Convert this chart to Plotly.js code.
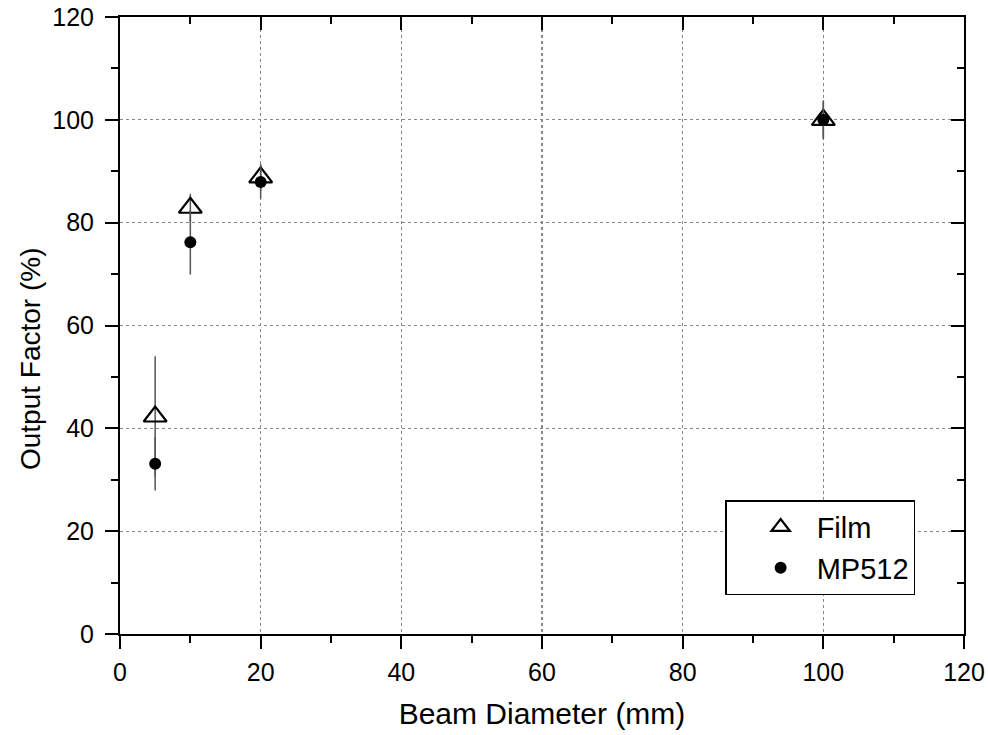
<!DOCTYPE html>
<html>
<head>
<meta charset="utf-8">
<script src="https://cdn.plot.ly/plotly-3.0.1.min.js"></script>
<style>html,body{margin:0;padding:0;background:#fff;}#chart{width:988px;height:735px;}</style>
</head>
<body>
<div id="chart"></div>
<script>
const beamDiameter = [5, 10, 20, 100];
const filmOF = [42.3, 82.9, 88.8, 100];
const filmErr = [11.7, 2.7, 2.6, 3.5];
const mp512OF = [33.1, 76.2, 87.9, 100];
const mp512Err = [5.2, 6.3, 3.2, 3.8];
const xTicks = [0, 20, 40, 60, 80, 100, 120];
const yTicks = [0, 20, 40, 60, 80, 100, 120];

const FONT = 'Liberation Sans, Arial, sans-serif';

const traces = [
  {
    x: beamDiameter, y: filmOF, name: 'Film', type: 'scatter', mode: 'markers',
    marker: {symbol: 'triangle-up-open', size: 20, color: '#000', line: {width: 2.2, color: '#000'}},
    error_y: {type: 'data', array: filmErr, visible: true, color: '#555', thickness: 1.5, width: 0}
  },
  {
    x: beamDiameter, y: mp512OF, name: 'MP512', type: 'scatter', mode: 'markers',
    marker: {symbol: 'circle', size: 12, color: '#000'},
    error_y: {type: 'data', array: mp512Err, visible: true, color: '#555', thickness: 1.5, width: 0}
  }
];

const axisCommon = {
  range: [0, 120], autorange: false, showline: true, linecolor: '#000', linewidth: 2,
  zeroline: false, tickfont: {family: FONT, size: 25, color: '#000'}
};

const layout = {
  width: 988, height: 735,
  margin: {l: 120, r: 24, t: 17, b: 101},
  paper_bgcolor: '#fff', plot_bgcolor: '#fff',
  font: {family: FONT, color: '#000'},
  showlegend: true,
  legend: {
    x: 0.717, y: 0.217, xanchor: 'left', yanchor: 'top',
    bordercolor: '#000', borderwidth: 1.5, bgcolor: '#fff',
    font: {family: FONT, size: 29, color: '#000'},
    itemwidth: 62, indentation: 18, tracegroupgap: 0
  },
  xaxis: Object.assign({}, axisCommon, {
    tickvals: xTicks, ticktext: xTicks.map(String),
    ticks: 'outside', ticklen: 13, tickwidth: 2, tickcolor: '#000',
    minor: {dtick: 10, tick0: 0, ticks: 'outside', ticklen: 7, tickwidth: 2, tickcolor: '#000', showgrid: false},
    showgrid: true, gridcolor: '#888', gridwidth: 1.3, griddash: 'dot',
    ticklabelstandoff: 2,
    title: {text: 'Beam Diameter (mm)', font: {family: FONT, size: 30, color: '#000'}, standoff: 18}
  }),
  yaxis: Object.assign({}, axisCommon, {
    tickvals: yTicks, ticktext: yTicks.map(String),
    ticks: 'outside', ticklen: 13, tickwidth: 2, tickcolor: '#000',
    minor: {dtick: 10, tick0: 0, ticks: 'outside', ticklen: 7, tickwidth: 2, tickcolor: '#000', showgrid: false},
    showgrid: true, gridcolor: '#888', gridwidth: 1.3, griddash: 'dot',
    ticklabelstandoff: 6
  }),
  xaxis2: Object.assign({}, axisCommon, {
    overlaying: 'x', side: 'top', anchor: 'y', matches: 'x',
    tickvals: xTicks, showticklabels: false,
    ticks: 'inside', ticklen: 13, tickwidth: 2, tickcolor: '#000',
    minor: {dtick: 10, tick0: 0, ticks: 'inside', ticklen: 7, tickwidth: 2, tickcolor: '#000', showgrid: false},
    showgrid: false
  }),
  yaxis2: Object.assign({}, axisCommon, {
    overlaying: 'y', side: 'right', anchor: 'x', matches: 'y',
    tickvals: yTicks, showticklabels: false,
    ticks: 'inside', ticklen: 13, tickwidth: 2, tickcolor: '#000',
    minor: {dtick: 10, tick0: 0, ticks: 'inside', ticklen: 7, tickwidth: 2, tickcolor: '#000', showgrid: false},
    showgrid: false
  }),
  annotations: [{
    text: 'Output Factor (%)', textangle: -90, showarrow: false,
    xref: 'paper', yref: 'paper', x: -0.1066, y: 0.4457, xanchor: 'center', yanchor: 'middle',
    font: {family: FONT, size: 28, color: '#000'}
  }]
};

traces.push({x: [null], y: [null], xaxis: 'x2', yaxis: 'y2', type: 'scatter', mode: 'markers', showlegend: false, hoverinfo: 'skip'});

Plotly.newPlot('chart', traces, layout, {displayModeBar: false, staticPlot: true});
</script>
</body>
</html>
